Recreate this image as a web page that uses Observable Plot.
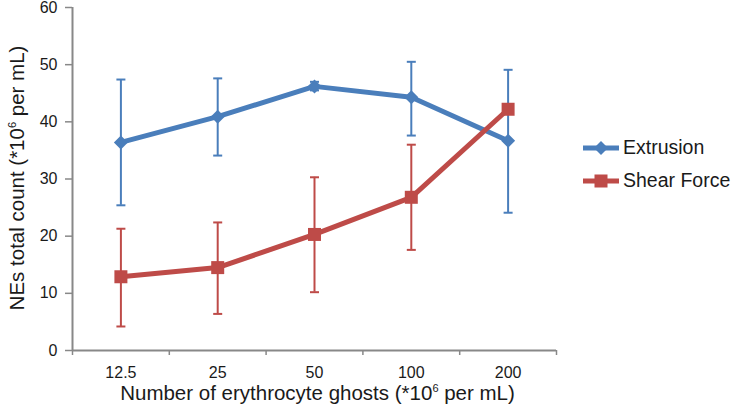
<!DOCTYPE html>
<html>
<head>
<meta charset="utf-8">
<script src="https://cdn.jsdelivr.net/npm/d3@7"></script>
<script src="https://cdn.jsdelivr.net/npm/@observablehq/plot@0.6"></script>
<style>
  html, body { margin: 0; padding: 0; background: #fff; }
  #wrap { position: relative; width: 735px; height: 408px; font-family: "Liberation Sans", Arial, sans-serif; }
  #legend { position: absolute; left: 581px; top: 131px; font-size: 19.5px; color: #1a1a1a; }
  .row { display: flex; align-items: center; height: 33px; }
  .row svg { margin-right: 2px; }
</style>
</head>
<body>
<div id="wrap"></div>
<script>
const categories = ["12.5", "25", "50", "100", "200"];
const extrusion   = [36.4, 40.9, 46.2, 44.3, 36.7];
const extrusionLo = [25.4, 34.1, 45.5, 37.6, 24.1];
const extrusionHi = [47.4, 47.6, 47.0, 50.5, 49.1];
const shear   = [12.9, 14.5, 20.3, 26.8, 42.2];
const shearLo = [4.2, 6.4, 10.2, 17.6, 42.2];
const shearHi = [21.3, 22.4, 30.3, 36.0, 42.2];
const yTicks = [0, 10, 20, 30, 40, 50, 60];
const seriesNames = ["Extrusion", "Shear Force"];
const xTitle = "Number of erythrocyte ghosts (*10\u2076 per mL)";
const yTitle = "NEs total count (*10\u2076 per mL)";

const BLUE = "#4a7ebb", RED = "#be4b48", GRAY = "#888888";

const ext = categories.map((c, i) => ({i, c, v: extrusion[i], lo: extrusionLo[i], hi: extrusionHi[i]}));
const shr = categories.map((c, i) => ({i, c, v: shear[i], lo: shearLo[i], hi: shearHi[i]}));
const bounds = d3.range(categories.length + 1).map(k => k - 0.5);

const r = s => Math.sqrt(s / Math.PI);
const capSym = {draw(ctx, size) { const w = r(size); ctx.moveTo(-w, 0); ctx.lineTo(w, 0); }};
const diamondSym = {draw(ctx, size) { const w = r(size); ctx.moveTo(0, -w); ctx.lineTo(w, 0); ctx.lineTo(0, w); ctx.lineTo(-w, 0); ctx.closePath(); }};
const squareSym = {draw(ctx, size) { const w = r(size); ctx.rect(-w, -w, 2 * w, 2 * w); }};

function series(data, color, sym, rad) {
  const bars = data.filter(d => d.hi > d.lo);
  return [
    Plot.ruleX(bars, {x: "i", y1: "lo", y2: "hi", stroke: color, strokeWidth: 2}),
    Plot.dot(bars, {x: "i", y: "hi", symbol: capSym, r: 4.5, stroke: color, strokeWidth: 2, fill: "none"}),
    Plot.dot(bars, {x: "i", y: "lo", symbol: capSym, r: 4.5, stroke: color, strokeWidth: 2, fill: "none"}),
    Plot.line(data, {x: "i", y: "v", stroke: color, strokeWidth: 5, strokeLinejoin: "round", strokeLinecap: "round"}),
    Plot.dot(data, {x: "i", y: "v", symbol: sym, r: rad, fill: color, stroke: "none"})
  ];
}

const chart = Plot.plot({
  width: 735,
  height: 408,
  marginLeft: 72,
  marginRight: 179,
  marginTop: 7,
  marginBottom: 58,
  style: {fontFamily: "'Liberation Sans', Arial, sans-serif", background: "#fff", overflow: "visible"},
  x: {domain: [-0.5, categories.length - 0.5]},
  y: {domain: [0, 60]},
  marks: [
    Plot.axisY({ticks: yTicks, tickSize: 7, tickPadding: 8, fontSize: 16, stroke: GRAY, strokeWidth: 1.5, fill: "#1a1a1a", label: null}),
    Plot.axisX({ticks: bounds, tickSize: 5, tickFormat: () => "", stroke: GRAY, strokeWidth: 1.5, label: null}),
    Plot.ruleX([-0.5], {stroke: GRAY, strokeWidth: 2}),
    Plot.ruleY([0], {stroke: GRAY, strokeWidth: 2}),
    Plot.text(ext, {x: "i", text: "c", frameAnchor: "bottom", lineAnchor: "middle", dy: 22, fontSize: 16, fill: "#1a1a1a"}),
    Plot.text([xTitle], {text: d => d, frameAnchor: "bottom", lineAnchor: "middle", textAnchor: "middle", dx: 3, dy: 42.5, fontSize: 20.5, fill: "#1a1a1a", className: "ttl"}),
    Plot.text([yTitle], {text: d => d, frameAnchor: "left", lineAnchor: "middle", textAnchor: "middle", dx: -55, dy: -1, rotate: -90, fontSize: 20.5, fill: "#1a1a1a", className: "ttl"}),
    ...series(ext, BLUE, diamondSym, 7),
    ...series(shr, RED, squareSym, 6.5)
  ]
});

const wrap = document.getElementById("wrap");
wrap.appendChild(chart);

// superscript rendering for the "6" in titles
chart.querySelectorAll(".ttl text").forEach(t => {
  const s = t.textContent;
  const k = s.indexOf("\u2076");
  if (k < 0) return;
  t.textContent = "";
  const ns = "http://www.w3.org/2000/svg";
  const a = document.createElementNS(ns, "tspan"); a.textContent = s.slice(0, k);
  const b = document.createElementNS(ns, "tspan"); b.textContent = "6"; b.setAttribute("font-size", "11"); b.setAttribute("dy", "-8");
  const c = document.createElementNS(ns, "tspan"); c.textContent = s.slice(k + 1); c.setAttribute("dy", "8");
  t.append(a, b, c);
});

// legend
const legend = document.createElement("div");
legend.id = "legend";
const markers = [
  `<polygon points="20,11 27,18 20,25 13,18" fill="${BLUE}"/>`,
  `<rect x="13.5" y="11.5" width="13" height="13" fill="${RED}"/>`
];
const colors = [BLUE, RED];
seriesNames.forEach((name, k) => {
  const row = document.createElement("div");
  row.className = "row";
  row.innerHTML = `<svg width="40" height="36"><line x1="2" y1="18" x2="38" y2="18" stroke="${colors[k]}" stroke-width="5"/>${markers[k]}</svg><span>${name}</span>`;
  legend.appendChild(row);
});
wrap.appendChild(legend);
</script>
</body>
</html>
